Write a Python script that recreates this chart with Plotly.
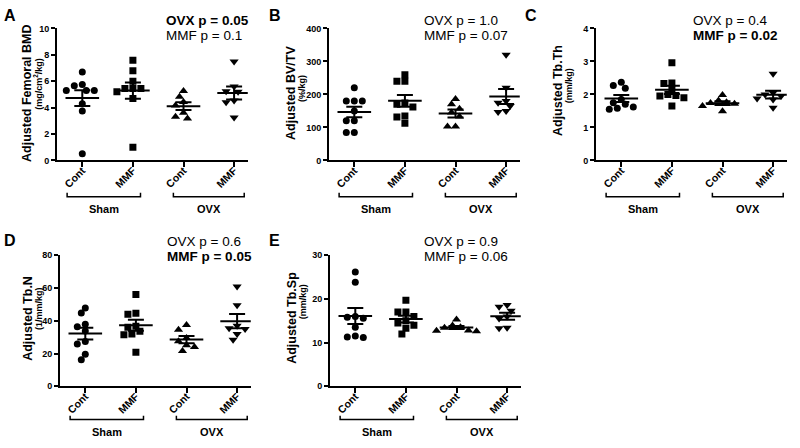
import numpy as np
import plotly.graph_objects as go

W, H = 800, 448

categories = ["Cont", "MMF", "Cont", "MMF"]
groups = ["Sham", "OVX"]

# values
bmd_sham_cont = [6.7, 5.75, 5.65, 5.3, 5.3, 5.3, 4.3, 3.75, 0.5]
bmd_sham_mmf = [7.6, 6.8, 6.0, 5.45, 5.45, 5.45, 5.2, 4.7, 1.0]
bmd_ovx_cont = [5.27, 4.83, 4.42, 4.17, 3.61, 3.32, 3.18]
bmd_ovx_mmf = [7.5, 5.6, 5.24, 5.2, 4.54, 4.4, 3.25]

bvtv_sham_cont = [220, 180, 180, 180, 150, 120, 120, 85, 85]
bvtv_sham_mmf = [260, 240, 240, 174, 170, 162, 135, 132, 113]
bvtv_ovx_cont = [186, 170, 157, 145, 133, 103, 103]
bvtv_ovx_mmf = [320, 220, 180, 175, 165, 150, 147]

tbth_sham_cont = [2.37, 2.27, 2.19, 1.85, 1.75, 1.70, 1.62, 1.58, 1.55]
tbth_sham_mmf = [2.96, 2.35, 2.33, 2.15, 2.0, 1.97, 1.95, 1.9, 1.65]
tbth_ovx_cont = [1.98, 1.82, 1.76, 1.74, 1.72, 1.65, 1.49]
tbth_ovx_mmf = [2.63, 2.05, 2.0, 1.95, 1.88, 1.85, 1.6]

tbn_sham_cont = [47.8, 44.8, 37.9, 36.3, 33.8, 27.4, 25.8, 19.6, 16.2]
tbn_sham_mmf = [56, 44.6, 44, 36, 36.7, 33.6, 32, 31.5, 20.8]
tbn_ovx_cont = [37.5, 34.6, 29.5, 27.5, 25, 24, 21.5]
tbn_ovx_mmf = [61, 49.5, 37, 35, 35.5, 32, 28.5]

tbsp_sham_cont = [26.2, 23.8, 16.0, 15.8, 15.6, 13.5, 11.5, 11.3, 11.2]
tbsp_sham_mmf = [19.7, 17, 17, 16, 15, 14.5, 14, 13.3, 12]
tbsp_ovx_cont = [15.3, 13.9, 13.5, 13.4, 12.8, 12.7, 12.6]
tbsp_ovx_mmf = [18.6, 18.2, 17.3, 16.0, 15.5, 13.4, 13.3]

symbols = ["circle", "square", "triangle-up", "triangle-down"]
FONT = "Liberation Sans, Arial, sans-serif"

# pixel placement of each panel: axis left x, axis top / bottom y,
# letter, y-title, unit and p-value positions
panels = [
    dict(letter="A", data=[bmd_sham_cont, bmd_sham_mmf, bmd_ovx_cont, bmd_ovx_mmf],
         ymax=10, dtick=2, title="Adjusted Femoral BMD", unit="(mg/cm<sup>2</sup>/kg)",
         p=[("OVX p = 0.05", True), ("MMF p = 0.1", False)],
         x0=57, top=24, bot=159, lpos=(2, 11), tpos=(27, 90), upos=(38.5, 81), ppos=(165, 16)),
    dict(letter="B", data=[bvtv_sham_cont, bvtv_sham_mmf, bvtv_ovx_cont, bvtv_ovx_mmf],
         ymax=400, dtick=100, title="Adjusted BV/TV", unit="(%/kg)",
         p=[("OVX p = 1.0", False), ("MMF p = 0.07", False)],
         x0=329, top=24, bot=159, lpos=(267, 11), tpos=(291, 90), upos=(302, 86), ppos=(423, 16)),
    dict(letter="C", data=[tbth_sham_cont, tbth_sham_mmf, tbth_ovx_cont, tbth_ovx_mmf],
         ymax=4, dtick=1, title="Adjusted Tb.Th", unit="(mm/kg)",
         p=[("OVX p = 0.4", False), ("MMF p = 0.02", True)],
         x0=596, top=24, bot=159, lpos=(523, 11), tpos=(558, 88), upos=(569, 83), ppos=(692, 16)),
    dict(letter="D", data=[tbn_sham_cont, tbn_sham_mmf, tbn_ovx_cont, tbn_ovx_mmf],
         ymax=80, dtick=20, title="Adjusted Tb.N", unit="(1/mm/kg)",
         p=[("OVX p = 0.6", False), ("MMF p = 0.05", True)],
         x0=60, top=256, bot=390, lpos=(2, 241), tpos=(28, 321), upos=(39, 311), ppos=(166, 242)),
    dict(letter="E", data=[tbsp_sham_cont, tbsp_sham_mmf, tbsp_ovx_cont, tbsp_ovx_mmf],
         ymax=30, dtick=10, title="Adjusted Tb.Sp", unit="(mm/kg)",
         p=[("OVX p = 0.9", False), ("MMF p = 0.06", False)],
         x0=330, top=256, bot=390, lpos=(267, 241), tpos=(292, 320), upos=(303, 304), ppos=(423, 242)),
]

XMIN, XMAX = -0.5, 3.27
UNIT_PX = 50.6


def px(x):
    return x / W


def py(y):
    return 1 - y / H


def swarm(vals, px_per_unit, d=8.0):
    # simple beeswarm: nearest free slot on a half-marker grid
    order = np.argsort(vals)[::-1]
    placed = []
    offs = np.zeros(len(vals))
    cands = [0]
    for k in range(1, 12):
        cands += [-k * d / 2, k * d / 2]
    for i in order:
        yy = vals[i] * px_per_unit
        for c in cands:
            if all((c - qx) ** 2 + (yy - qy) ** 2 >= (d * 0.8) ** 2 for qx, qy in placed):
                break
        placed.append((c, yy))
        offs[i] = c / UNIT_PX
    return offs


fig = go.Figure()
annotations = []
shapes = []

for n, pnl in enumerate(panels, start=1):
    xa = "x" if n == 1 else f"x{n}"
    ya = "y" if n == 1 else f"y{n}"
    ppu = (pnl["bot"] - pnl["top"]) / pnl["ymax"]

    for i, vals in enumerate(pnl["data"]):
        vals = np.array(vals, dtype=float)
        xs = i + swarm(vals, ppu)
        fig.add_trace(go.Scatter(
            x=xs, y=vals, mode="markers", xaxis=xa, yaxis=ya,
            marker=dict(symbol=symbols[i], size=7 if i < 2 else 8, color="black"),
            showlegend=False, hoverinfo="y"))
        m = vals.mean()
        sem = vals.std(ddof=1) / np.sqrt(len(vals))
        fig.add_trace(go.Scatter(
            x=[i], y=[m], mode="markers", xaxis=xa, yaxis=ya,
            marker=dict(symbol="line-ew", size=24, line=dict(width=2, color="black")),
            error_y=dict(type="data", array=[sem], width=8, thickness=2, color="black"),
            showlegend=False, hoverinfo="y"))

    xl = pnl["x0"]
    xr = xl + (XMAX - XMIN) * UNIT_PX
    fig.update_layout(**{
        ("xaxis" if n == 1 else f"xaxis{n}"): dict(
            domain=[px(xl), px(xr)], anchor=ya, range=[XMIN, XMAX],
            tickvals=[0, 1, 2, 3], ticktext=categories, tickangle=-45,
            ticklabelstandoff=-7,
            showline=True, linecolor="black", linewidth=2, ticks="outside",
            ticklen=5, tickwidth=1.5, tickcolor="black", showgrid=False, zeroline=False,
            tickfont=dict(family=FONT, size=10.5, color="black", weight="bold")),
        ("yaxis" if n == 1 else f"yaxis{n}"): dict(
            domain=[py(pnl["bot"]), py(pnl["top"])], anchor=xa,
            range=[0, pnl["ymax"]], dtick=pnl["dtick"],
            showline=True, linecolor="black", linewidth=2, ticks="outside",
            ticklen=4, tickwidth=1.5, tickcolor="black", showgrid=False, zeroline=False,
            tickfont=dict(family=FONT, size=9, color="black", weight="bold")),
    })

    # panel letter
    lx, ly = pnl["lpos"]
    annotations.append(dict(text=f"<b>{pnl['letter']}</b>", x=px(lx), y=py(ly),
                            xref="paper", yref="paper", xanchor="left", yanchor="middle",
                            showarrow=False, font=dict(size=16, family=FONT, color="black")))
    # y titles
    tx, ty = pnl["tpos"]
    annotations.append(dict(text=f"<b>{pnl['title']}</b>", x=px(tx), y=py(ty),
                            xref="paper", yref="paper", xanchor="center", yanchor="middle",
                            textangle=-90, showarrow=False,
                            font=dict(size=12.5, family=FONT, color="black")))
    ux, uy = pnl["upos"]
    annotations.append(dict(text=f"<b>{pnl['unit']}</b>", x=px(ux), y=py(uy),
                            xref="paper", yref="paper", xanchor="center", yanchor="middle",
                            textangle=-90, showarrow=False,
                            font=dict(size=9, family=FONT, color="black")))
    # p values, one annotation per line
    ppx, ppy = pnl["ppos"]
    for k, (txt, bold) in enumerate(pnl["p"]):
        annotations.append(dict(text=f"<b>{txt}</b>" if bold else txt,
                                x=px(ppx), y=py(ppy + 15 * k),
                                xref="paper", yref="paper", xanchor="left", yanchor="middle",
                                showarrow=False, borderpad=0,
                                font=dict(size=13.5, family=FONT, color="black")))
    # group brackets under the category labels
    by = pnl["bot"] + 37 if pnl["top"] < 100 else pnl["bot"] + 34
    for g, (a, b) in zip(groups, [(-0.3, 1.15), (1.8, 3.2)]):
        shapes.append(dict(type="path", xref=xa, yref="paper",
                           path=f"M {a},{py(by - 4)} L {a},{py(by)} L {b},{py(by)} L {b},{py(by - 4)}",
                           line=dict(color="black", width=1.5)))
        annotations.append(dict(text=f"<b>{g}</b>", x=(a + b) / 2, y=py(by + 13),
                                xref=xa, yref="paper", xanchor="center", yanchor="middle",
                                showarrow=False, font=dict(size=11, family=FONT, color="black")))

fig.update_layout(
    width=W, height=H, margin=dict(l=0, r=0, t=0, b=0),
    paper_bgcolor="white", plot_bgcolor="white",
    annotations=annotations, shapes=shapes,
    font=dict(family=FONT, color="black"),
)

fig.write_html("out.html", config={"displayModeBar": False},
               post_script="document.body.style.margin='0';")
